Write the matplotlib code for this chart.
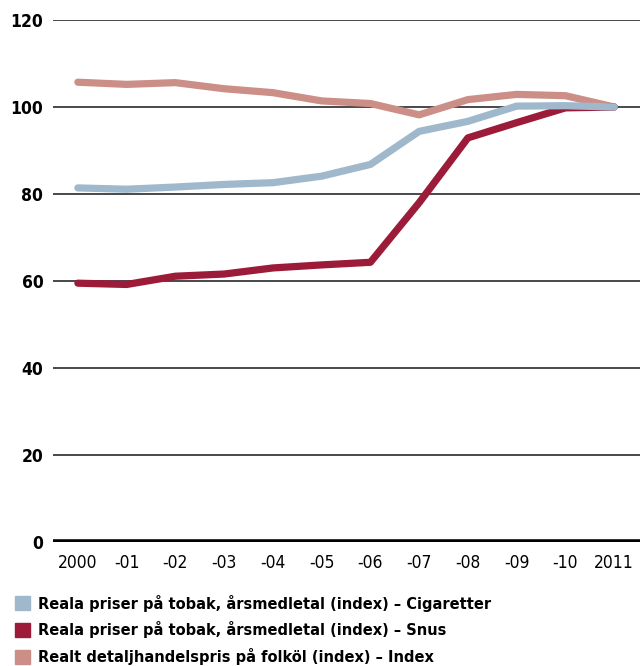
import matplotlib
matplotlib.use("Agg")
import matplotlib.pyplot as plt
from matplotlib.patches import Patch
from matplotlib import font_manager

years = [2000, 2001, 2002, 2003, 2004, 2005, 2006, 2007, 2008, 2009, 2010, 2011]
xlabels = ["2000", "-01", "-02", "-03", "-04", "-05", "-06", "-07", "-08", "-09", "-10", "2011"]
cigaretter = [81.4, 81.1, 81.6, 82.2, 82.6, 84.1, 86.8, 94.4, 96.7, 100.2, 100.3, 100.0]
snus = [59.5, 59.2, 61.1, 61.6, 63.0, 63.7, 64.3, 78.0, 92.9, 96.4, 99.8, 100.0]
folkol = [105.7, 105.2, 105.6, 104.2, 103.3, 101.4, 100.8, 98.2, 101.7, 102.9, 102.6, 100.0]
labels = ["Reala priser på tobak, årsmedletal (index) – Cigaretter",
          "Reala priser på tobak, årsmedletal (index) – Snus",
          "Realt detaljhandelspris på folköl (index) – Index"]
yticks = [0, 20, 40, 60, 80, 100, 120]

c_cig = "#a0b8cc"
c_snus = "#9b1b38"
c_beer = "#cc8f88"

fonts = font_manager.fontManager.ttflist
cond = [f for f in fonts if f.name == "DejaVu Sans" and f.stretch == "condensed"]
plt.rcParams["font.family"] = ["DejaVu Sans"]
if cond:
    plt.rcParams["font.stretch"] = "condensed"

fig = plt.figure(figsize=(6.42, 6.66), dpi=100)
ax = fig.add_axes([53/642, 1-542/666, (640-53)/642, (542-20)/666])

for v in yticks[1:]:
    ax.axhline(v, color="#3a3a3a", lw=1.3, zorder=1)
ax.axhline(0, color="black", lw=4, zorder=5)

ax.plot(years, folkol, color=c_beer, lw=5.2, solid_capstyle="round", solid_joinstyle="round", zorder=2)
ax.plot(years, snus, color=c_snus, lw=5.2, solid_capstyle="round", solid_joinstyle="round", zorder=3)
ax.plot(years, cigaretter, color=c_cig, lw=5.2, solid_capstyle="round", solid_joinstyle="round", zorder=4)

ax.set_xlim(1999.49, 2011.53)
ax.set_ylim(0, 120)
ax.set_yticks(yticks)
ax.set_yticklabels([str(v) for v in yticks], fontsize=12.5, fontweight="bold")
ax.set_xticks(years)
ax.set_xticklabels(xlabels, fontsize=12.5)
ax.tick_params(axis="both", length=0)
ax.tick_params(axis="y", pad=7)
ax.tick_params(axis="x", pad=9)
for s in ax.spines.values():
    s.set_visible(False)

handles = [Patch(color=c, label=l) for c, l in zip([c_cig, c_snus, c_beer], labels)]
leg = fig.legend(handles=handles, loc="upper left", bbox_to_anchor=(5/642, 1-585/666),
                 frameon=False, handlelength=0.95, handleheight=0.95, handletextpad=0.5,
                 labelspacing=0.6, borderaxespad=0.2,
                 prop={"weight": "bold", "size": 11.7})

fig.savefig("out.png", dpi=100)
